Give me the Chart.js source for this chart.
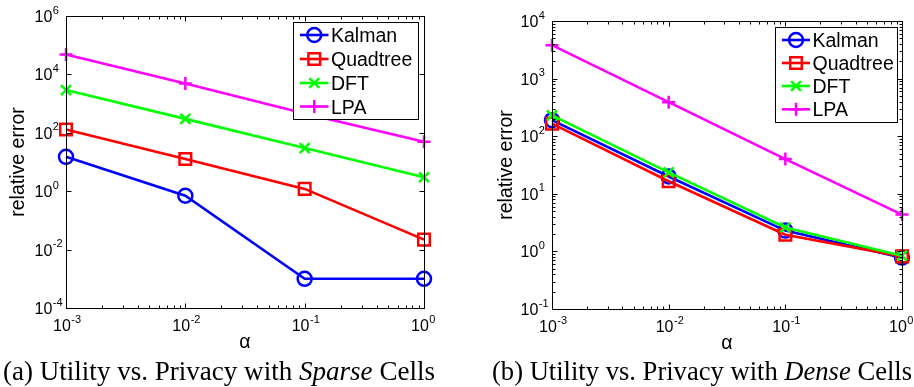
<!DOCTYPE html>
<html>
<head>
<meta charset="utf-8">
<script src="https://cdn.jsdelivr.net/npm/chart.js@4/dist/chart.umd.min.js"></script>
<style>
  html, body { margin: 0; padding: 0; background: #fff; }
  body { width: 914px; height: 387px; position: relative; overflow: hidden; }
  .panel { position: absolute; top: 0; width: 457px; height: 387px; }
  .cap { position: absolute; white-space: nowrap; font-family: "Liberation Serif", "DejaVu Serif", serif; font-size: 22px; line-height: 22px; color: #000; }
</style>
</head>
<body>
<div class="panel" style="left:0"><canvas id="c1"></canvas></div>
<div class="panel" style="left:457px"><canvas id="c2"></canvas></div>
<div class="cap" id="capA" style="left:3px; top:360px;">(a) Utility vs. Privacy with <i>Sparse</i> Cells</div>
<div class="cap" id="capB" style="left:492px; top:360px;">(b) Utility vs. Privacy with <i>Dense</i> Cells</div>
<script>
// ---------------- data ----------------
const alphaValues = [0.001, 0.01, 0.1, 1];
const seriesNames = ['Kalman', 'Quadtree', 'DFT', 'LPA'];

const sparseKalman   = [15, 0.7, 0.001, 0.001];
const sparseQuadtree = [130, 12.7, 1.2, 0.022];
const sparseDFT      = [2900, 300, 30, 3];
const sparseLPA      = [48000, 4900, 460, 49];

const denseKalman    = [190, 20, 2.3, 0.78];
const denseQuadtree  = [165, 16.5, 1.95, 0.82];
const denseDFT       = [230, 23.6, 2.6, 0.84];
const denseLPA       = [3800, 390, 40, 4.35];

const xTickExponents      = [-3, -2, -1, 0];
const sparseYTickExponents = [-4, -2, 0, 2, 4, 6];
const denseYTickExponents  = [-1, 0, 1, 2, 3, 4];

const xTitle = 'α';
const yTitle = 'relative error';

// ---------------- styles ----------------
const seriesColors = ['#0000ff', '#ff0000', '#00ff00', '#ff00ff'];
const seriesMarkers = ['circle', 'rect', 'crossRot', 'cross'];
const markerRadius = [7, 8.2, 7, 6.5];

function drawMarker(ctx, style, r, x, y) {
  ctx.beginPath();
  if (style === 'circle') {
    ctx.arc(x, y, r, 0, Math.PI * 2);
  } else if (style === 'rect') {
    const s = r * Math.SQRT1_2;
    ctx.rect(x - s, y - s, 2 * s, 2 * s);
  } else if (style === 'crossRot') {
    const s = r * Math.SQRT1_2;
    ctx.moveTo(x - s, y - s); ctx.lineTo(x + s, y + s);
    ctx.moveTo(x - s, y + s); ctx.lineTo(x + s, y - s);
  } else if (style === 'cross') {
    ctx.moveTo(x - r, y); ctx.lineTo(x + r, y);
    ctx.moveTo(x, y - r); ctx.lineTo(x, y + r);
  }
  ctx.stroke();
}

function makeDatasets(valuesList) {
  return valuesList.map((vals, i) => ({
    label: seriesNames[i],
    data: alphaValues.map((a, j) => ({ x: a, y: vals[j] })),
    borderColor: seriesColors[i],
    backgroundColor: 'rgba(0,0,0,0)',
    pointBorderColor: seriesColors[i],
    pointBackgroundColor: 'rgba(0,0,0,0)',
    pointStyle: seriesMarkers[i],
    pointRadius: markerRadius[i],
    pointBorderWidth: 2.5,
    borderWidth: 2.6,
    tension: 0,
    clip: false,
    order: 3 - i
  }));
}

const framePlugin = {
  id: 'frame',
  afterDraw(chart, args, o) {
    const { ctx, chartArea: a, scales } = chart;
    const xs = scales.x, ys = scales.y;
    const L = Math.round(a.left) + 0.5, R = Math.round(a.right) + 0.5;
    const T = Math.round(a.top) + 0.5, B = Math.round(a.bottom) + 0.5;
    ctx.save();
    ctx.strokeStyle = '#000';
    ctx.lineWidth = 1;
    ctx.strokeRect(L, T, R - L, B - T);
    // x ticks
    const xe = o.xExps;
    ctx.beginPath();
    xe.forEach((e, k) => {
      const px = Math.round(xs.getPixelForValue(Math.pow(10, e))) + 0.5;
      ctx.moveTo(px, B); ctx.lineTo(px, B - 5);
      ctx.moveTo(px, T); ctx.lineTo(px, T + 5);
      if (k < xe.length - 1) {
        for (let m = 2; m <= 9; m++) {
          const mx = Math.round(xs.getPixelForValue(m * Math.pow(10, e))) + 0.5;
          ctx.moveTo(mx, B); ctx.lineTo(mx, B - 3);
          ctx.moveTo(mx, T); ctx.lineTo(mx, T + 3);
        }
      }
    });
    // y ticks
    const ye = o.yExps;
    ye.forEach((e, k) => {
      const py = Math.round(ys.getPixelForValue(Math.pow(10, e))) + 0.5;
      ctx.moveTo(L, py); ctx.lineTo(L + 5, py);
      ctx.moveTo(R, py); ctx.lineTo(R - 5, py);
      if (o.yMinor && k < ye.length - 1) {
        for (let m = 2; m <= 9; m++) {
          const my = Math.round(ys.getPixelForValue(m * Math.pow(10, e))) + 0.5;
          ctx.moveTo(L, my); ctx.lineTo(L + 3, my);
          ctx.moveTo(R, my); ctx.lineTo(R - 3, my);
        }
      }
    });
    ctx.stroke();

    // tick labels
    ctx.fillStyle = '#000';
    ctx.textBaseline = 'alphabetic';
    ctx.textAlign = 'left';
    const base = '16px "Liberation Sans", Arial, sans-serif';
    const sup = '11px "Liberation Sans", Arial, sans-serif';
    function label(x, y, e) {
      ctx.font = base;
      ctx.fillText('10', x, y);
      const w = ctx.measureText('10').width;
      ctx.font = sup;
      ctx.fillText(e < 0 ? '-' + (-e) : String(e), x + w + 0.5, y - 8.5);
    }
    xe.forEach(e => {
      const px = xs.getPixelForValue(Math.pow(10, e));
      label(px - 13, a.bottom + 23, e);
    });
    ye.forEach(e => {
      const py = ys.getPixelForValue(Math.pow(10, e));
      label(a.left - 31.5, py + 6, e);
    });

    // axis titles
    ctx.font = '19.5px "Liberation Sans", Arial, sans-serif';
    ctx.textAlign = 'center';
    ctx.fillText(xTitle, (a.left + a.right) / 2, a.bottom + 40);
    ctx.save();
    ctx.translate(o.yTitleX, (a.top + a.bottom) / 2);
    ctx.rotate(-Math.PI / 2);
    ctx.textBaseline = 'middle';
    ctx.fillText(yTitle, 0, 0);
    ctx.restore();

    // legend
    const lg = o.legend;
    ctx.fillStyle = '#fff';
    ctx.fillRect(lg.x0, lg.y0, lg.x1 - lg.x0, lg.y1 - lg.y0);
    ctx.strokeStyle = '#000';
    ctx.lineWidth = 1;
    ctx.strokeRect(Math.round(lg.x0) + 0.5, Math.round(lg.y0) + 0.5, Math.round(lg.x1 - lg.x0), Math.round(lg.y1 - lg.y0));
    chart.data.datasets.forEach((ds, i) => {
      const ry = lg.rows[i];
      ctx.strokeStyle = ds.borderColor;
      ctx.lineWidth = ds.borderWidth;
      ctx.beginPath();
      ctx.moveTo(lg.lx0, ry); ctx.lineTo(lg.lx1, ry);
      ctx.stroke();
      ctx.lineWidth = ds.pointBorderWidth;
      drawMarker(ctx, ds.pointStyle, ds.pointRadius, (lg.lx0 + lg.lx1) / 2, ry);
      ctx.fillStyle = '#000';
      ctx.font = '19.5px "Liberation Sans", Arial, sans-serif';
      ctx.textAlign = 'left';
      ctx.textBaseline = 'alphabetic';
      ctx.fillText(ds.label, lg.tx, ry + 7);
    });
    ctx.restore();
  }
};

function makeChart(id, lists, ymin, ymax, pad, frameOpts) {
  return new Chart(document.getElementById(id), {
    type: 'line',
    data: { datasets: makeDatasets(lists) },
    options: {
      responsive: true,
      maintainAspectRatio: false,
      animation: false,
      devicePixelRatio: 1,
      layout: { padding: pad },
      scales: {
        x: { type: 'logarithmic', min: 1e-3, max: 1, display: false },
        y: { type: 'logarithmic', min: ymin, max: ymax, display: false }
      },
      plugins: {
        legend: { display: false },
        tooltip: { enabled: false },
        frame: frameOpts
      }
    },
    plugins: [framePlugin]
  });
}

makeChart('c1', [sparseKalman, sparseQuadtree, sparseDFT, sparseLPA], 1e-4, 1e6,
  { left: 66, right: 33, top: 16, bottom: 79 },
  { xExps: xTickExponents, yExps: sparseYTickExponents, yMinor: false, yTitleX: 19,
    legend: { x0: 293, y0: 22, x1: 418, y1: 119, rows: [35, 59, 83, 106.5], lx0: 300, lx1: 328.5, tx: 331 } });

makeChart('c2', [denseKalman, denseQuadtree, denseDFT, denseLPA], 1e-1, 1e4,
  { left: 95, right: 12, top: 21, bottom: 78 },
  { xExps: xTickExponents, yExps: denseYTickExponents, yMinor: true, yTitleX: 50,
    legend: { x0: 318, y0: 27, x1: 440, y1: 122, rows: [40, 63, 86, 109.3], lx0: 325, lx1: 353, tx: 355.5 } });

// fit captions to their widths
function fit(id, target) {
  const el = document.getElementById(id);
  let size = 22;
  for (let k = 0; k < 4; k++) {
    el.style.fontSize = size + 'px';
    const w = el.getBoundingClientRect().width;
    size = size * target / w;
  }
  el.style.fontSize = size + 'px';
}
fit('capA', 432);
fit('capB', 420);
</script>
</body>
</html>
